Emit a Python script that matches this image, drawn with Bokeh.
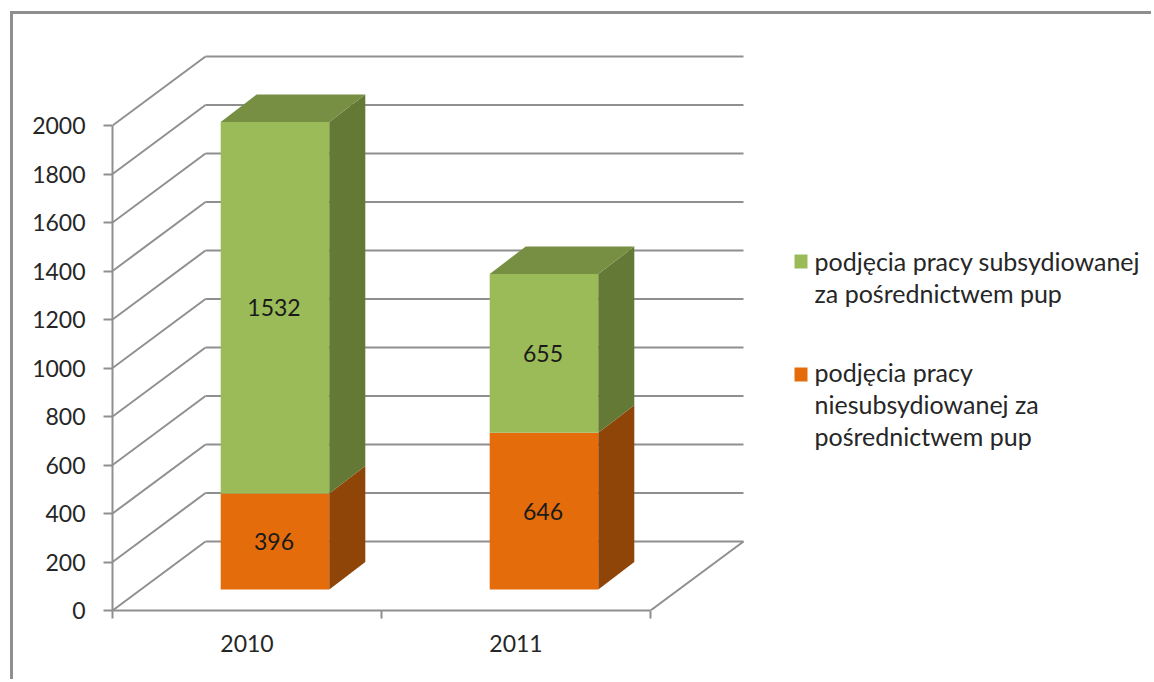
from bokeh.plotting import figure
from bokeh.embed import file_html
from bokeh.resources import INLINE
from bokeh.models import FixedTicker, Range1d, Label, BoxAnnotation
from bokeh.core.properties import value

# ---- data ----
years = ["2010", "2011"]
cat_pos = [1, 2]
unsubsidised = [396, 646]      # bottom segment (orange)
subsidised = [1532, 655]       # top segment (green)
legend_sub = "podjęcia pracy subsydiowanej\nza pośrednictwem pup"
legend_uns = "podjęcia pracy\nniesubsydiowanej za\npośrednictwem pup"
y_ticks = [0, 200, 400, 600, 800, 1000, 1200, 1400, 1600, 1800, 2000]

# ---- page geometry ----
OX, OY = 13, 14             # canvas origin on the page
W, H = 1154 - OX, 682 - OY
LEFT = 112 - OX             # frame left edge, canvas px
FLOOR = 610 - OY            # frame bottom edge, canvas px
PX_X = 269.0                # px per category
PX_Y = 485.0 / 2000         # px per value
FONT = value("Lato")
GREY = "#8f8f8f"
LW = 2.0

# perspective of the chart box, px converted to data units
WALL_DX = 93.0 / PX_X
WALL_DY = 69.0 / PX_Y
BAR_FX = 28.0 / PX_X
BAR_FY = 21.0 / PX_Y
BAR_DX = 36.0 / PX_X
BAR_DY = 27.5 / PX_Y
BAR_W = 108.6 / PX_X

p = figure(width=W, height=H, output_backend="svg", toolbar_location=None,
           x_range=Range1d(0.5, 0.5 + (W - LEFT) / PX_X),
           y_range=Range1d(0, FLOOR / PX_Y),
           min_border_left=LEFT, min_border_bottom=H - FLOOR,
           min_border_top=0, min_border_right=0,
           outline_line_color=None, background_fill_color="white",
           border_fill_color="white",
           margin=(OY, 0, 0, OX),
           styles={"box-shadow": "-3px -3px 0 0 #8f8f8f"})
p.grid.visible = False

# axes
ya = p.yaxis[0]
ya.ticker = FixedTicker(ticks=y_ticks)
ya.bounds = (0, 2000)
ya.axis_line_color = GREY
ya.axis_line_width = LW
ya.major_tick_line_color = GREY
ya.major_tick_line_width = LW
ya.major_tick_in = 0
ya.major_tick_out = 9
ya.minor_tick_line_color = None
ya.major_label_standoff = 18
ya.major_label_text_font = "Lato"
ya.major_label_text_font_size = "23px"
ya.major_label_text_color = "#262626"

xa = p.xaxis[0]
xa.ticker = FixedTicker(ticks=cat_pos, minor_ticks=[0.5, 1.5, 2.5])
xa.major_label_overrides = {c: y for c, y in zip(cat_pos, years)}
xa.bounds = (0.5, 2.5)
xa.axis_line_color = GREY
xa.axis_line_width = LW
xa.major_tick_line_color = None
xa.major_tick_in = 0
xa.major_tick_out = 0
xa.minor_tick_line_color = GREY
xa.minor_tick_line_width = LW
xa.minor_tick_in = 0
xa.minor_tick_out = 8
xa.major_label_standoff = 16
xa.major_label_text_font = "Lato"
xa.major_label_text_font_size = "23px"
xa.major_label_text_color = "#262626"

# box: back-wall gridlines, side-wall diagonals, floor edge
x_l, x_r = 0.5, 2.5
p.segment(x0=[x_l + WALL_DX] * len(y_ticks), x1=[x_r + WALL_DX] * len(y_ticks),
          y0=[v + WALL_DY for v in y_ticks], y1=[v + WALL_DY for v in y_ticks],
          line_color=GREY, line_width=LW)
p.segment(x0=[x_l] * len(y_ticks), x1=[x_l + WALL_DX] * len(y_ticks),
          y0=y_ticks, y1=[v + WALL_DY for v in y_ticks],
          line_color=GREY, line_width=LW)
p.segment(x0=[x_r], x1=[x_r + WALL_DX], y0=[0], y1=[WALL_DY],
          line_color=GREY, line_width=LW)


def box(bottoms, tops, front, side, top_col=None):
    xl = [c - BAR_W / 2 + BAR_FX for c in cat_pos]
    xr = [c + BAR_W / 2 + BAR_FX for c in cat_pos]
    yb = [b + BAR_FY for b in bottoms]
    yt = [t + BAR_FY for t in tops]
    p.quad(left=xl, right=xr, bottom=yb, top=yt, fill_color=front, line_color=None)
    p.patches(xs=[[r, r + BAR_DX, r + BAR_DX, r] for r in xr],
              ys=[[b, b + BAR_DY, t + BAR_DY, t] for b, t in zip(yb, yt)],
              fill_color=side, line_color=None)
    if top_col:
        p.patches(xs=[[l, l + BAR_DX, r + BAR_DX, r] for l, r in zip(xl, xr)],
                  ys=[[t, t + BAR_DY, t + BAR_DY, t] for t in yt],
                  fill_color=top_col, line_color=None)


totals = [a + b for a, b in zip(unsubsidised, subsidised)]
box([0, 0], unsubsidised, "#E46C0A", "#8F4507")
box(unsubsidised, totals, "#9BBB59", "#647936", "#778F43")

# value labels
lab_x = [c + BAR_FX - 1.0 / PX_X for c in cat_pos] * 2
lab_y = [u / 2 + BAR_FY for u in unsubsidised] + \
        [u + s / 2 + BAR_FY for u, s in zip(unsubsidised, subsidised)]
lab_t = [str(v) for v in unsubsidised + subsidised]
p.text(x=lab_x, y=lab_y, text=lab_t, text_align="center", text_baseline="middle",
       text_font=FONT, text_font_size="23px", text_color="#1a1a1a")

# legend
for top_px, col in ((254 - OY, "#9BBB59"), (367 - OY, "#E46C0A")):
    p.add_layout(BoxAnnotation(left=794 - OX, right=807 - OX, top=top_px, bottom=top_px + 14,
                               left_units="canvas", right_units="canvas",
                               top_units="canvas", bottom_units="canvas",
                               fill_color=col, fill_alpha=1, line_color=None, level="overlay"))
for txt, top_px in ((legend_sub, 245 - OY), (legend_uns, 356 - OY)):
    p.add_layout(Label(x=814 - OX, y=top_px, x_units="canvas", y_units="canvas",
                       text=txt, text_font="Lato", text_font_size="25px",
                       text_color="#262626", text_baseline="top", text_align="left",
                       text_line_height=1.07))

open("out.html", "w").write(file_html(p, INLINE))
